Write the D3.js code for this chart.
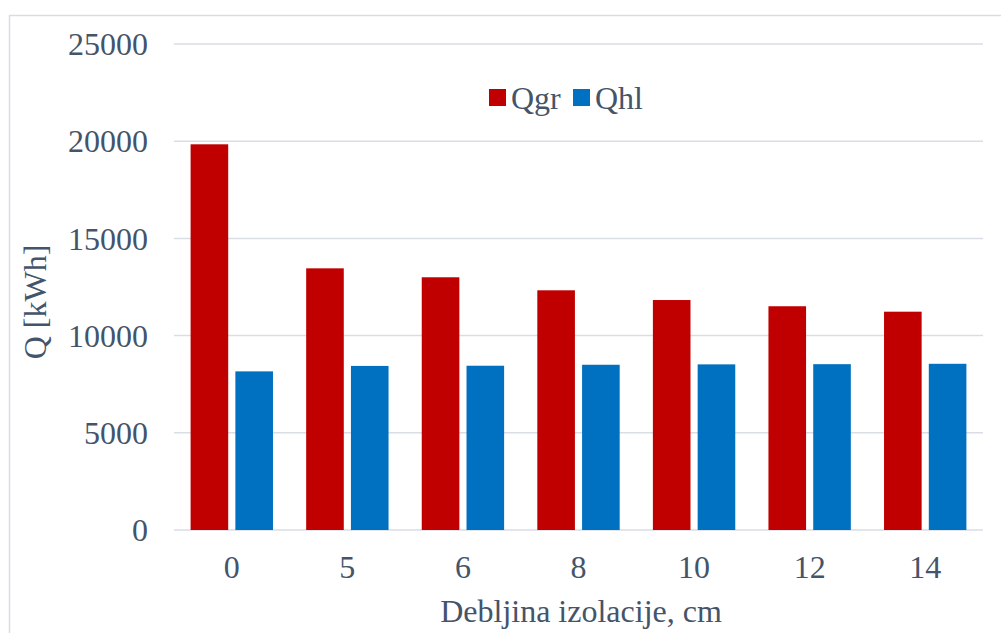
<!DOCTYPE html>
<html><head><meta charset="utf-8">
<script src="https://cdn.jsdelivr.net/npm/d3@7"></script>
<style>body{margin:0;background:#fff}svg{display:block}</style>
</head><body><svg id="c" width="1001" height="633"></svg>
<script>
const categories = ["0","5","6","8","10","12","14"];
const seriesNames = ["Qgr","Qhl"];
const qgr = [19840,13460,13000,12330,11830,11510,11230];
const qhl = [8160,8440,8450,8500,8520,8530,8550];
const yTicks = [0,5000,10000,15000,20000,25000];
const colors = {Qgr:"#c00000", Qhl:"#0070c0"};

(function(){
const svg = d3.select("#c");
const font = "'Liberation Serif','Times New Roman',serif";
const textColor = "#44546a";
const fs = 32;

svg.append("rect").attr("x",9.5).attr("y",15.5).attr("width",1020).attr("height",640)
  .attr("fill","#fff").attr("stroke","#d9dde3").attr("stroke-width",1.5);

const pl=174, pr=983, pt=44, pb=530;
const x0 = d3.scaleBand().domain(categories).range([pl,pr]).padding(0);
const x1 = d3.scaleBand().domain(seriesNames).range([16.6, x0.bandwidth()-16.6]).paddingInner(0.16).paddingOuter(0);
const y = d3.scaleLinear().domain([0,25000]).range([pb,pt]);

svg.append("g").selectAll("line").data(yTicks).join("line")
  .attr("x1",pl).attr("x2",pr)
  .attr("y1",d=>y(d)).attr("y2",d=>y(d))
  .attr("stroke","#d9dee6").attr("stroke-width",1.5);

const data = categories.map((c,i)=>({cat:c, vals:[{k:"Qgr",v:qgr[i]},{k:"Qhl",v:qhl[i]}]}));
const g = svg.append("g").selectAll("g").data(data).join("g")
  .attr("transform",d=>`translate(${x0(d.cat)},0)`);
g.selectAll("rect").data(d=>d.vals).join("rect")
  .attr("x",d=>x1(d.k)).attr("width",x1.bandwidth())
  .attr("y",d=>y(d.v)).attr("height",d=>y(0)-y(d.v))
  .attr("fill",d=>colors[d.k]);

svg.append("g").selectAll("text").data(yTicks).join("text")
  .attr("x",148).attr("y",d=>y(d)).attr("dy","0.35em")
  .attr("text-anchor","end").attr("font-family",font).attr("font-size",fs)
  .attr("fill",textColor).text(d=>d);

svg.append("g").selectAll("text").data(categories).join("text")
  .attr("x",d=>x0(d)+x0.bandwidth()/2).attr("y",567).attr("dy","0.35em")
  .attr("text-anchor","middle").attr("font-family",font).attr("font-size",fs)
  .attr("fill",textColor).text(d=>d);

svg.append("text").attr("x",581).attr("y",611).attr("dy","0.35em")
  .attr("text-anchor","middle").attr("font-family",font).attr("font-size",fs)
  .attr("fill",textColor).text("Debljina izolacije, cm");
svg.append("text").attr("transform","translate(35,302) rotate(-90)").attr("dy","0.35em")
  .attr("text-anchor","middle").attr("font-family",font).attr("font-size",fs)
  .attr("fill",textColor).text("Q [kWh]");

const leg = svg.append("g");
const legItems = [{k:"Qgr",x:489},{k:"Qhl",x:573}];
leg.selectAll("rect").data(legItems).join("rect")
  .attr("x",d=>d.x).attr("y",89).attr("width",17).attr("height",17)
  .attr("fill",d=>colors[d.k]);
leg.selectAll("text").data(legItems).join("text")
  .attr("x",d=>d.x+22).attr("y",98).attr("dy","0.35em")
  .attr("font-family",font).attr("font-size",fs).attr("fill",textColor).text(d=>d.k);
})();
</script></body></html>
